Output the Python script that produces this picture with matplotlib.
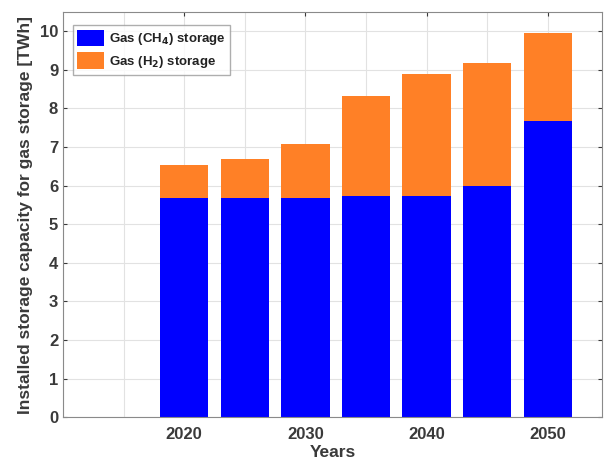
import matplotlib.pyplot as plt
import numpy as np

years = [2020, 2025, 2030, 2035, 2040, 2045, 2050]
ch4_storage = [5.68, 5.68, 5.68, 5.73, 5.73, 5.99, 7.68]
total_storage = [6.54, 6.70, 7.08, 8.33, 8.90, 9.19, 9.95]
h2_storage = [t - c for t, c in zip(total_storage, ch4_storage)]
labels = ['Gas (CH$_\\mathbf{4}$) storage', 'Gas (H$_\\mathbf{2}$) storage']
colors = ['#0000ff', '#ff8026']

plt.rcParams['font.family'] = ['Liberation Sans', 'DejaVu Sans']
plt.rcParams['font.weight'] = 'bold'
plt.rcParams['mathtext.default'] = 'bf'

fig = plt.figure(figsize=(6.06, 4.63), dpi=100)
ax = fig.add_axes([0.104, 0.099, 0.89, 0.875])

ax.bar(years, ch4_storage, width=4, color=colors[0], label=labels[0], zorder=2)
ax.bar(years, h2_storage, width=4, bottom=ch4_storage, color=colors[1],
       label=labels[1], zorder=2)

ax.set_xlim(2010, 2054.5)
ax.set_ylim(0, 10.5)
ax.set_xticks([2020, 2030, 2040, 2050])
ax.set_xticks(np.arange(2010, 2055, 5), minor=True)
ax.set_yticks(range(0, 11))
ax.grid(True, which='both', color='#e2e2e2', linewidth=0.8, zorder=0)
ax.set_axisbelow(True)

ax.tick_params(axis='both', which='both', direction='in', colors='#3a3a3a',
               labelsize=12, top=True, right=True, length=3)
ax.tick_params(axis='x', which='minor', length=0)
ax.tick_params(axis='x', pad=7)
for s in ax.spines.values():
    s.set_color('#8a8a8a')
    s.set_linewidth(0.8)

ax.set_xlabel('Years', fontsize=12.5, fontweight='bold', color='#3a3a3a', labelpad=2)
ax.set_ylabel('Installed storage capacity for gas storage [TWh]', fontsize=12.5,
              fontweight='bold', color='#3a3a3a', labelpad=5)

leg = ax.legend(loc='upper left', bbox_to_anchor=(0.018, 0.968), fontsize=9.5,
                frameon=True, fancybox=False, edgecolor='#9a9a9a',
                handlelength=2.0, handleheight=1.55, handletextpad=0.4,
                borderaxespad=0, labelspacing=0.4, borderpad=0.35)
for t in leg.get_texts():
    t.set_color('#222222')

fig.savefig('out.png', dpi=100)
